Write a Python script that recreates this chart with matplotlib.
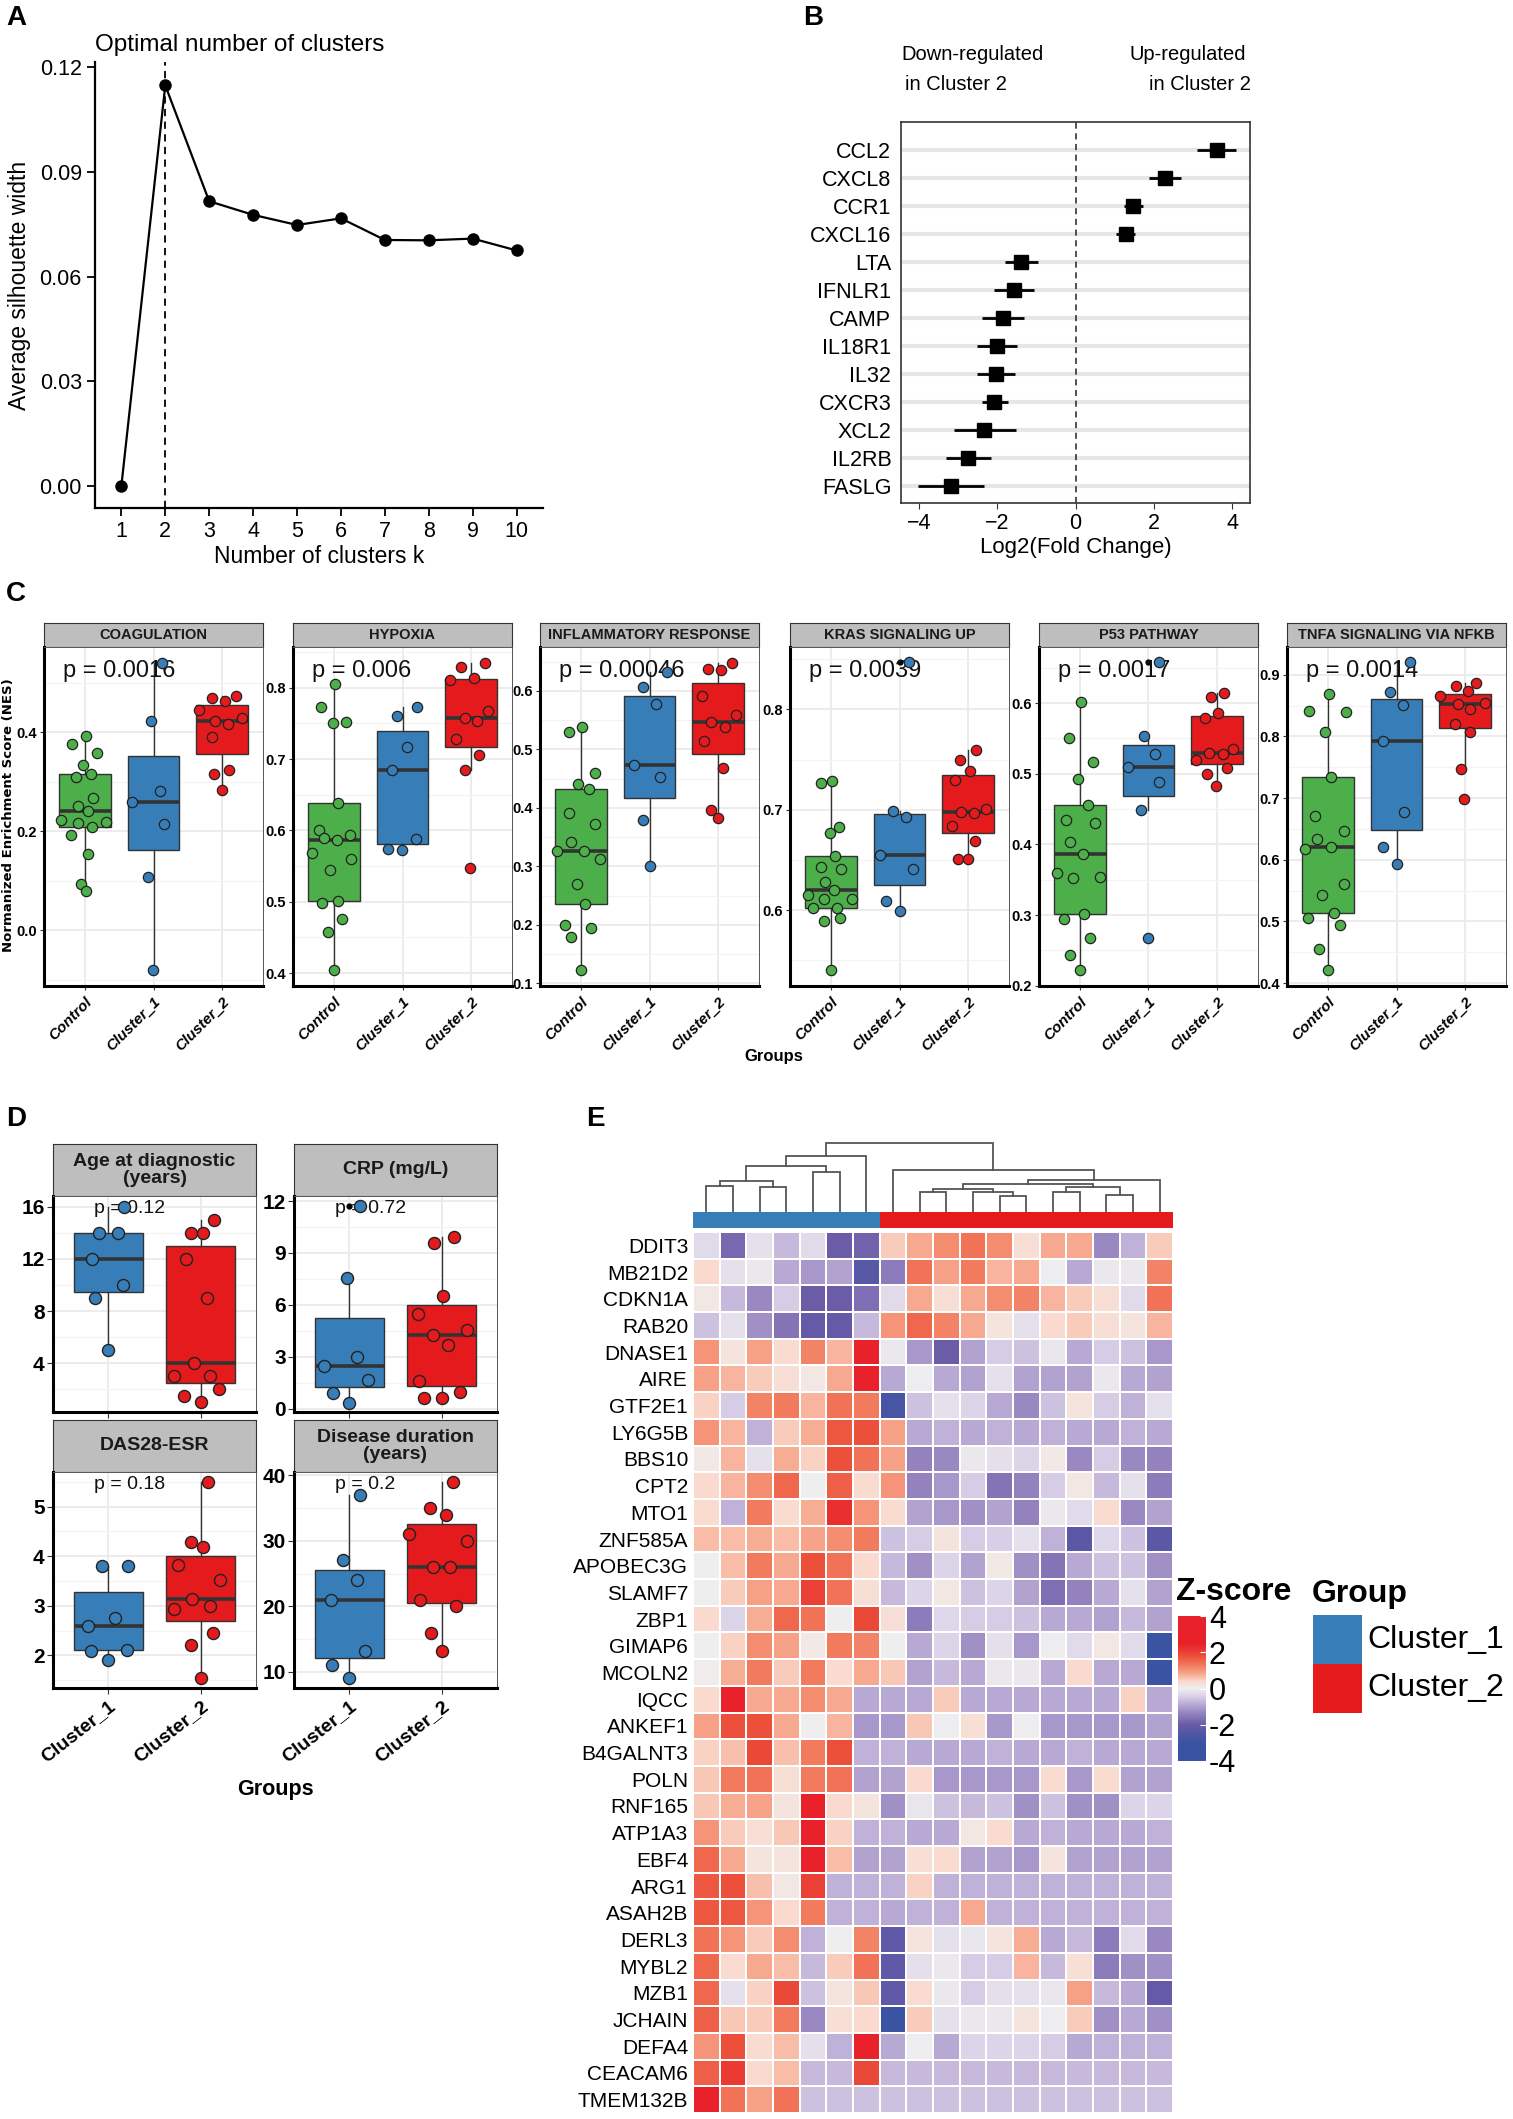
import numpy as np
import matplotlib
matplotlib.use("Agg")
import matplotlib.pyplot as plt
from matplotlib.colors import LinearSegmentedColormap, Normalize
from matplotlib.patches import Rectangle
from matplotlib.ticker import FixedLocator

plt.rcParams["font.family"] = ["Liberation Sans", "DejaVu Sans"]

W, H = 1513, 2119

# ---------------- data: panel A ----------------
k_values = list(range(1, 11))
silhouette = [0.000, 0.1148, 0.0816, 0.0777, 0.0748, 0.0767, 0.0705, 0.0704, 0.0709, 0.0675]
best_k = 2

# ---------------- data: panel B ----------------
fc_genes = ["CCL2", "CXCL8", "CCR1", "CXCL16", "LTA", "IFNLR1", "CAMP",
            "IL18R1", "IL32", "CXCR3", "XCL2", "IL2RB", "FASLG"]
fc_mean = [3.61, 2.28, 1.48, 1.28, -1.39, -1.58, -1.85, -2.01, -2.04, -2.08, -2.33, -2.75, -3.19]
fc_low = [3.10, 1.87, 1.25, 1.03, -1.79, -2.08, -2.39, -2.51, -2.53, -2.39, -3.10, -3.32, -4.02]
fc_high = [4.10, 2.70, 1.73, 1.53, -0.96, -1.07, -1.31, -1.49, -1.55, -1.73, -1.53, -2.17, -2.33]

# ---------------- data: panel C ----------------
groups_c = ["Control", "Cluster_1", "Cluster_2"]
pathways = ["COAGULATION", "HYPOXIA", "INFLAMMATORY RESPONSE",
            "KRAS SIGNALING UP", "P53 PATHWAY", "TNFA SIGNALING VIA NFKB"]
pathway_p = ["p = 0.0016", "p = 0.006", "p = 0.00046", "p = 0.0039", "p = 0.0017", "p = 0.0014"]

coag_ctrl = [0.376, 0.392, 0.358, 0.334, 0.309, 0.315, 0.268, 0.252, 0.241, 0.222, 0.216,
             0.218, 0.208, 0.193, 0.155, 0.093, 0.079]
coag_c1 = [0.541, 0.424, 0.281, 0.260, 0.215, 0.108, -0.081]
coag_c2 = [0.469, 0.464, 0.474, 0.446, 0.424, 0.429, 0.417, 0.390, 0.317, 0.324, 0.284]

hyp_ctrl = [0.805, 0.773, 0.750, 0.752, 0.638, 0.601, 0.589, 0.587, 0.594, 0.568, 0.560,
            0.545, 0.501, 0.498, 0.476, 0.458, 0.405]
hyp_c1 = [0.773, 0.761, 0.717, 0.685, 0.588, 0.574, 0.573]
hyp_c2 = [0.835, 0.829, 0.814, 0.811, 0.767, 0.758, 0.753, 0.728, 0.706, 0.685, 0.547]

inf_ctrl = [0.529, 0.538, 0.460, 0.440, 0.433, 0.391, 0.373, 0.342, 0.326, 0.327, 0.313,
            0.270, 0.235, 0.200, 0.194, 0.180, 0.123]
inf_c1 = [0.633, 0.606, 0.578, 0.474, 0.453, 0.380, 0.300]
inf_c2 = [0.648, 0.637, 0.635, 0.591, 0.559, 0.547, 0.538, 0.515, 0.469, 0.397, 0.382]

kras_ctrl = [0.727, 0.729, 0.683, 0.677, 0.654, 0.643, 0.641, 0.628, 0.620, 0.615, 0.611,
             0.611, 0.602, 0.602, 0.589, 0.592, 0.541]
kras_c1 = [0.847, 0.699, 0.693, 0.655, 0.641, 0.609, 0.599]
kras_c2 = [0.759, 0.750, 0.739, 0.730, 0.698, 0.697, 0.701, 0.684, 0.669, 0.651, 0.651]

p53_ctrl = [0.602, 0.551, 0.516, 0.492, 0.456, 0.435, 0.431, 0.403, 0.386, 0.360, 0.353,
            0.354, 0.302, 0.294, 0.268, 0.244, 0.222]
p53_c1 = [0.658, 0.553, 0.528, 0.509, 0.489, 0.448, 0.268]
p53_c2 = [0.614, 0.609, 0.586, 0.579, 0.535, 0.530, 0.528, 0.519, 0.508, 0.500, 0.483]

tnfa_ctrl = [0.869, 0.842, 0.840, 0.808, 0.734, 0.671, 0.646, 0.633, 0.621, 0.618, 0.560,
             0.543, 0.514, 0.506, 0.495, 0.455, 0.421]
tnfa_c1 = [0.921, 0.872, 0.851, 0.792, 0.677, 0.621, 0.593]
tnfa_c2 = [0.887, 0.881, 0.874, 0.865, 0.853, 0.854, 0.845, 0.820, 0.808, 0.747, 0.698]

# horizontal jitter of each point (fraction of the group spacing)
coag_ctrl_dx = [-0.19, 0.01, 0.17, -0.03, -0.13, 0.08, 0.12, -0.10, 0.04, -0.35, -0.10, 0.30,
                0.10, -0.20, 0.04, -0.06, 0.01]
coag_c1_dx = [0.12, -0.04, 0.09, -0.31, 0.16, -0.08, -0.01]
coag_c2_dx = [-0.14, 0.04, 0.21, -0.34, -0.10, 0.29, 0.09, -0.14, -0.11, 0.10, 0.0]
hyp_ctrl_dx = [0.01, -0.19, -0.02, 0.18, 0.06, -0.22, -0.15, 0.05, 0.24, -0.32, 0.25, -0.06,
               0.06, -0.18, 0.11, -0.09, 0.0]
hyp_c1_dx = [0.21, -0.08, 0.06, -0.16, 0.19, -0.21, -0.01]
hyp_c2_dx = [0.21, -0.15, 0.04, -0.31, 0.25, -0.09, 0.09, -0.22, 0.12, -0.09, -0.01]
inf_ctrl_dx = [-0.17, 0.01, 0.21, -0.04, 0.11, -0.18, 0.20, -0.15, -0.35, 0.05, 0.27, -0.06,
               0.06, -0.24, 0.14, -0.14, 0.0]
inf_c1_dx = [0.26, -0.10, 0.09, -0.23, 0.15, -0.10, 0.0]
inf_c2_dx = [0.20, -0.14, 0.04, -0.23, 0.27, -0.10, 0.10, -0.21, 0.07, -0.10, 0.0]
kras_ctrl_dx = [-0.14, 0.01, 0.12, -0.01, 0.06, -0.14, 0.14, -0.09, 0.04, -0.34, -0.10, 0.30,
                -0.27, 0.09, -0.10, 0.13, 0.0]
kras_c1_dx = [0.14, -0.10, 0.10, -0.28, 0.19, -0.19, 0.0]
kras_c2_dx = [0.12, -0.11, 0.03, -0.19, -0.10, 0.09, 0.27, -0.24, 0.10, -0.14, 0.0]
p53_ctrl_dx = [0.01, -0.16, 0.19, -0.03, 0.11, -0.21, 0.22, -0.14, 0.04, -0.34, -0.10, 0.29,
               0.06, -0.23, 0.15, -0.14, 0.0]
p53_c1_dx = [0.15, -0.07, 0.09, -0.30, 0.15, -0.11, 0.0]
p53_c2_dx = [0.11, -0.09, 0.01, -0.17, 0.24, -0.11, 0.09, -0.31, 0.14, -0.14, -0.01]
tnfa_ctrl_dx = [0.01, -0.28, 0.26, -0.04, 0.05, -0.19, 0.24, -0.16, 0.05, -0.34, 0.23, -0.09,
                0.09, -0.29, 0.18, -0.13, 0.0]
tnfa_c1_dx = [0.19, -0.10, 0.09, -0.19, 0.11, -0.19, 0.0]
tnfa_c2_dx = [0.16, -0.13, 0.04, -0.36, -0.10, 0.29, 0.07, -0.14, 0.07, -0.06, -0.01]

pathway_ticks = [[0.0, 0.2, 0.4], [0.4, 0.5, 0.6, 0.7, 0.8], [0.1, 0.2, 0.3, 0.4, 0.5, 0.6],
                 [0.6, 0.7, 0.8], [0.2, 0.3, 0.4, 0.5, 0.6], [0.4, 0.5, 0.6, 0.7, 0.8, 0.9]]
pathway_ylim = [(-0.113, 0.573), (0.382, 0.857), (0.0955, 0.675),
                (0.5246, 0.862), (0.1995, 0.6795), (0.3954, 0.945)]

# ---------------- data: panel D ----------------
groups_d = ["Cluster_1", "Cluster_2"]
clin_titles = ["Age at diagnostic\n(years)", "CRP (mg/L)", "DAS28-ESR", "Disease duration\n(years)"]
clin_p = ["p = 0.12", "p = 0.72", "p = 0.18", "p = 0.2"]
age_c1 = [16.0, 14.0, 14.0, 12.0, 10.0, 9.0, 5.0]
age_c2 = [15.0, 14.0, 14.0, 12.0, 9.0, 4.0, 3.0, 3.0, 2.0, 1.5, 1.0]
crp_c1 = [11.7, 7.55, 2.96, 2.48, 1.68, 0.88, 0.35]
crp_c2 = [9.92, 9.6, 6.53, 5.47, 4.56, 4.27, 3.68, 1.6, 0.99, 0.61, 0.61]
das_c1 = [3.81, 3.81, 2.76, 2.60, 2.09, 2.11, 1.90]
das_c2 = [5.49, 4.29, 4.19, 3.82, 3.52, 3.13, 2.99, 2.94, 2.46, 2.20, 1.55]
dur_c1 = [36.98, 27.0, 23.98, 21.0, 13.1, 11.05, 9.08]
dur_c2 = [38.95, 35.0, 33.96, 31.0, 29.95, 25.95, 25.95, 21.0, 20.0, 15.97, 13.1]
age_c1_dx = [0.17, -0.10, 0.10, -0.18, 0.16, -0.14, 0.0]
age_c2_dx = [0.14, -0.10, 0.03, -0.16, 0.07, -0.07, -0.29, 0.10, 0.20, -0.18, 0.0]
crp_c1_dx = [0.11, -0.03, 0.08, -0.27, 0.20, -0.18, 0.0]
crp_c2_dx = [0.13, -0.08, 0.02, -0.26, 0.27, -0.09, 0.07, -0.25, 0.20, -0.19, 0.0]
das_c1_dx = [-0.07, 0.21, 0.07, -0.22, -0.19, 0.20, 0.0]
das_c2_dx = [0.08, -0.10, 0.03, -0.25, 0.21, -0.09, 0.10, -0.29, 0.13, -0.10, 0.0]
dur_c1_dx = [0.12, -0.07, 0.08, -0.20, 0.17, -0.19, 0.0]
dur_c2_dx = [0.12, -0.13, 0.05, -0.35, 0.28, -0.09, 0.09, -0.23, 0.16, -0.12, 0.0]
clin_ticks = [[4, 8, 12, 16], [0, 3, 6, 9, 12], [2, 3, 4, 5], [10, 20, 30, 40]]
clin_ylim = [(0.27, 16.82), (-0.19, 12.29), (1.34, 5.70), (7.53, 40.49)]

# ---------------- data: panel E ----------------
heat_genes = ["DDIT3", "MB21D2", "CDKN1A", "RAB20", "DNASE1", "AIRE", "GTF2E1", "LY6G5B",
              "BBS10", "CPT2", "MTO1", "ZNF585A", "APOBEC3G", "SLAMF7", "ZBP1", "GIMAP6",
              "MCOLN2", "IQCC", "ANKEF1", "B4GALNT3", "POLN", "RNF165", "ATP1A3", "EBF4",
              "ARG1", "ASAH2B", "DERL3", "MYBL2", "MZB1", "JCHAIN", "DEFA4", "CEACAM6", "TMEM132B"]
sample_group = ["Cluster_1"] * 7 + ["Cluster_2"] * 11
zscore = [
    [-0.3, -1.8, -0.2, -0.7, -0.3, -2.0, -1.9, 0.5, 0.8, 1.1, 1.4, 1.1, 0.3, 0.8, 0.8, -1.3, -0.8, 0.5],
    [0.4, -0.2, -0.1, -0.9, -1.1, -1.0, -2.4, -1.5, 1.4, 0.9, 1.3, 0.7, 0.8, -0.05, -0.9, -0.1, -0.1, 1.2],
    [0.15, -0.7, -1.3, -0.5, -2.0, -2.0, -1.7, -0.3, 0.8, 0.3, 0.8, 1.1, 1.2, 0.7, 0.5, 0.3, -0.3, 1.4],
    [-0.6, -0.2, -1.2, -1.6, -2.1, -2.1, -0.7, 1.0, 1.5, 1.2, 0.8, 0.2, -0.2, 0.4, 0.5, 0.3, 0.2, 0.7],
    [1.0, 0.2, 0.9, 0.35, 1.2, 0.7, 2.5, -0.1, -1.1, -2.0, -1.0, -0.5, -0.6, -0.15, -0.9, -0.5, -0.6, -1.1],
    [0.9, 0.7, 0.5, 0.3, 0.15, 0.8, 2.6, -0.9, -0.05, -0.9, -1.0, -0.2, -1.0, -1.0, -1.0, -0.1, -0.9, -1.0],
    [0.45, -0.5, 1.2, 1.3, 0.7, 1.4, 1.3, -2.7, -0.6, -0.2, -0.4, -0.9, -1.3, -0.6, 0.2, -0.5, -0.8, -0.2],
    [1.0, 0.7, -0.8, 0.5, 0.75, 1.7, 1.8, 0.9, -0.9, -0.8, -0.9, -0.8, -0.9, -0.8, -0.9, -0.9, -0.8, -0.9],
    [0.1, 0.7, -0.2, 0.75, 0.45, 1.8, 1.4, 0.9, -1.4, -1.3, -0.1, -0.25, -0.4, 0.1, -1.3, -0.5, -1.3, -1.4],
    [0.4, 0.7, 1.1, 1.5, 0.0, 1.6, 0.35, 1.0, -1.4, -1.1, -0.5, -1.6, -1.4, -0.5, 0.15, -0.7, -0.2, -1.5],
    [0.35, -0.8, 1.3, 0.35, 0.75, 2.3, 1.0, 0.35, -1.0, -1.1, -1.2, -1.0, -1.4, -0.1, -0.3, 0.35, -1.3, -1.0],
    [0.65, 0.65, 0.75, 0.65, 0.85, 1.1, 1.3, -0.6, -0.5, 0.2, -0.5, -0.45, -0.2, -0.8, -2.3, -0.35, -0.6, -2.3],
    [0.0, 0.65, 1.3, 0.8, 1.8, 1.4, 0.4, -0.7, -1.2, -0.4, -1.0, 0.1, -1.2, -1.6, -0.9, -0.6, -0.6, -1.2],
    [0.0, 0.5, 0.9, 0.8, 2.0, 1.4, 0.3, -0.7, -0.4, 0.15, -0.6, -0.4, -1.0, -1.7, -1.4, -0.9, -0.2, -1.0],
    [0.4, -0.4, 0.75, 1.5, 1.4, 0.0, 1.9, 0.3, -1.5, -0.35, -0.5, -0.5, -0.6, -0.9, -0.9, -1.0, -0.7, -1.0],
    [0.0, 0.45, 1.1, 0.9, 0.1, 1.3, 1.2, 0.0, -0.9, -0.4, -1.2, -0.25, -1.1, -0.05, -0.3, 0.15, -0.3, -3.0],
    [0.05, 0.75, 1.3, 0.5, 1.3, 0.35, 0.8, 0.55, -1.0, -0.7, -0.9, -0.1, -0.1, -0.9, 0.4, -0.9, -0.9, -3.2],
    [0.4, 2.6, 0.8, 0.8, 1.1, 0.8, -0.9, -0.9, -0.9, 0.5, -0.9, -0.9, -0.9, -0.9, -0.9, -0.9, 0.45, -0.9],
    [0.9, 1.8, 1.8, 0.8, 0.0, 0.7, -1.1, -1.1, 0.55, -0.05, 0.3, -1.1, -0.05, -1.1, -1.1, -1.1, -1.1, -1.0],
    [0.45, 0.6, 1.9, 0.6, 1.3, 1.8, -0.8, -0.8, -0.9, -0.9, -0.9, -0.8, -0.9, -0.9, -0.8, -0.9, -0.9, -0.9],
    [0.55, 1.3, 1.4, 0.3, 1.3, 1.4, -1.0, -1.0, 0.4, -1.1, -1.1, -1.1, -1.1, 0.35, -1.1, 0.35, -1.0, -1.0],
    [0.55, 0.75, 0.85, 0.2, 2.7, 0.4, 0.2, -1.2, -0.15, -0.6, -0.7, -0.6, -1.2, -0.6, -1.2, -1.2, -0.4, -0.4],
    [1.0, 0.5, 0.3, 0.55, 2.7, 0.45, -0.8, -0.8, -0.9, -0.9, 0.15, 0.35, -0.9, -0.8, -0.9, -0.9, -0.9, -0.8],
    [1.5, 0.8, 0.2, 0.2, 2.7, 0.65, -1.0, -1.0, 0.3, 0.35, -1.0, -1.0, -1.1, 0.2, -1.0, -1.0, -1.0, -1.0],
    [1.7, 1.8, 0.6, 0.15, 2.0, -0.8, -0.8, -0.8, 0.45, -0.8, -0.8, -0.8, -0.8, -0.8, -0.8, -0.8, -0.8, -0.8],
    [1.7, 1.7, 1.0, 0.4, 1.3, -0.8, -0.8, -0.9, -0.8, -0.8, 0.8, -0.8, -0.8, -0.8, -0.8, -0.8, -0.8, -0.8],
    [1.4, 1.0, 0.5, 1.1, -0.8, 0.0, 1.2, -2.2, 0.2, -0.2, -0.15, 0.2, 0.75, -0.9, -0.7, -1.5, -0.3, -1.3],
    [1.5, 0.35, 0.8, 0.65, -0.7, 0.5, 1.4, -2.2, -0.25, -0.1, -0.5, -0.5, 0.7, -0.7, 0.3, -1.5, -1.2, -1.2],
    [1.5, -0.2, 0.45, 1.9, -0.6, 0.2, 0.55, -2.2, 0.35, -0.1, -0.5, -0.25, -0.2, -0.15, 0.9, -0.7, -0.9, -2.1],
    [1.6, 0.55, 0.5, 1.3, -1.3, 0.3, 0.4, -3.0, 0.5, -0.2, -0.1, -0.1, 0.2, -0.05, 0.5, -1.2, -0.9, -1.2],
    [1.0, 1.8, 0.35, 0.65, -0.25, -0.8, 2.6, -0.9, -0.05, -0.9, -0.4, -0.4, -0.4, -0.5, -0.9, -0.8, -0.8, -0.8],
    [1.6, 2.1, 0.4, 0.65, -0.7, -0.7, 1.9, -0.7, -0.7, -0.7, -0.7, -0.7, -0.7, -0.7, -0.7, -0.7, -0.7, -0.7],
    [2.6, 1.4, 0.9, 1.4, -0.6, -0.6, -0.6, -0.6, -0.6, -0.6, -0.6, -0.6, -0.6, -0.6, -0.6, -0.6, -0.6, -0.6],
]
# column dendrogram: (left node, right node, height); leaves 0..17, new nodes from 18
col_merges = [(0, 1, 75), (2, 3, 72), (18, 19, 90), (4, 5, 115), (20, 21, 134), (22, 6, 164),
              (11, 12, 45), (10, 24, 55), (8, 9, 55), (26, 25, 64), (13, 14, 55), (15, 16, 47),
              (28, 29, 72), (27, 30, 79), (31, 17, 92), (7, 32, 122), (23, 33, 202)]

GREEN, BLUE, RED = "#4DAF4A", "#377EB8", "#E41A1C"
group_colors = {"Control": GREEN, "Cluster_1": BLUE, "Cluster_2": RED}

fig = plt.figure(figsize=(W / 100, H / 100), dpi=100)


def px_axes(l, t, r, b):
    return fig.add_axes([l / W, 1 - b / H, (r - l) / W, (b - t) / H])


def panel_label(x, y, s):
    fig.text(x / W, 1 - y / H, s, fontsize=20, fontweight="bold", va="center", ha="left")


# ---------------- A ----------------
ax = px_axes(95, 62, 543, 508)
ax.plot(k_values, silhouette, color="black", lw=1.6, marker="o", ms=8, zorder=3)
ax.axvline(best_k, color="black", ls=(0, (4, 3)), lw=1.3)
ax.set_xlim(0.4, 10.6)
ax.set_ylim(-0.0063, 0.1215)
ax.set_xticks(k_values)
ax.set_yticks([0, 0.03, 0.06, 0.09, 0.12])
ax.set_yticklabels(["0.00", "0.03", "0.06", "0.09", "0.12"])
for s in ["top", "right"]:
    ax.spines[s].set_visible(False)
for s in ["left", "bottom"]:
    ax.spines[s].set_linewidth(1.6)
ax.tick_params(labelsize=15.5, length=6, width=1.3)
ax.set_xlabel("Number of clusters k", fontsize=16.5, labelpad=2)
ax.set_ylabel("Average silhouette width", fontsize=16.5, labelpad=6)
fig.text(95 / W, 1 - 45 / H, "Optimal number of clusters", fontsize=17.5, va="center")
panel_label(6, 18, "A")

# ---------------- B ----------------
ax = px_axes(901, 122, 1250, 503)
yy = np.arange(len(fc_genes))[::-1]
for y in yy:
    ax.axhline(y, color="#E6E6E6", lw=3, zorder=0)
ax.hlines(yy, fc_low, fc_high, color="black", lw=2)
ax.plot(fc_mean, yy, "s", color="black", ms=10, zorder=3)
ax.axvline(0, color="#222222", ls=(0, (4, 3)), lw=1.1)
ax.set_xlim(-4.46, 4.46)
ax.set_ylim(-0.6, 13.0)
ax.set_yticks(yy)
ax.set_yticklabels(fc_genes)
ax.set_xticks([-4, -2, 0, 2, 4])
ax.tick_params(axis="y", length=0, pad=7, labelsize=15.5)
ax.tick_params(axis="x", length=4, labelsize=15.5, color="#333333")
for s in ax.spines.values():
    s.set_color("#333333")
    s.set_linewidth(1.2)
ax.set_xlabel("Log2(Fold Change)", fontsize=16, labelpad=2)
fig.text(901 / W, 1 - 55 / H, "Down-regulated", fontsize=14.5, va="center", ha="left")
fig.text(905 / W, 1 - 84 / H, "in Cluster 2", fontsize=14.5, va="center", ha="left")
fig.text(1246 / W, 1 - 55 / H, "Up-regulated", fontsize=14.5, va="center", ha="right")
fig.text(1251 / W, 1 - 84 / H, "in Cluster 2", fontsize=14.5, va="center", ha="right")
panel_label(803, 18, "B")


def style_facet(ax, ticks, ylim, xlim):
    ax.set_ylim(*ylim)
    ax.set_xlim(*xlim)
    ax.set_yticks(ticks)
    step = ticks[1] - ticks[0]
    mids = [t + step / 2 for t in [ticks[0] - step] + list(ticks)]
    ax.yaxis.set_minor_locator(FixedLocator(mids))
    ax.grid(which="major", color="#EBEBEB", lw=1.3, zorder=0)
    ax.grid(which="minor", axis="y", color="#F3F3F3", lw=0.8, zorder=0)
    ax.set_axisbelow(True)
    ax.tick_params(which="minor", length=0)
    for s in ["left", "bottom"]:
        ax.spines[s].set_color("black")
        ax.spines[s].set_linewidth(2.2)
    for s in ["top", "right"]:
        ax.spines[s].set_color("#555555")
        ax.spines[s].set_linewidth(0.7)


def draw_boxes(ax, data, offsets, colors, size, lw):
    pos = np.arange(1, len(data) + 1)
    bp = ax.boxplot(data, positions=pos, widths=0.75, patch_artist=True, showcaps=False,
                    whis=1.5, zorder=2,
                    medianprops=dict(color="#333333", lw=2.6),
                    whiskerprops=dict(color="#333333", lw=1.0),
                    boxprops=dict(edgecolor="#333333", lw=1.0),
                    flierprops=dict(marker="o", markerfacecolor="black",
                                    markeredgecolor="black", markersize=3.5))
    for patch, c in zip(bp["boxes"], colors):
        patch.set_facecolor(c)
    for p, vals, dx, c in zip(pos, data, offsets, colors):
        ax.scatter([p + d for d in dx], vals, s=size, color=c, edgecolor="#222222",
                   lw=lw, zorder=4)


def strip(l, t, r, b, title, fsize):
    sa = px_axes(l, t, r, b)
    sa.set_facecolor("#BEBEBE")
    sa.set_xticks([])
    sa.set_yticks([])
    for s in sa.spines.values():
        s.set_color("#333333")
        s.set_linewidth(0.8)
    sa.text(0.5, 0.5, title, ha="center", va="center", fontsize=fsize,
            fontweight="bold", color="#1A1A1A", linespacing=0.95)


# ---------------- C ----------------
c_data = [[coag_ctrl, coag_c1, coag_c2], [hyp_ctrl, hyp_c1, hyp_c2], [inf_ctrl, inf_c1, inf_c2],
          [kras_ctrl, kras_c1, kras_c2], [p53_ctrl, p53_c1, p53_c2], [tnfa_ctrl, tnfa_c1, tnfa_c2]]
c_dx = [[coag_ctrl_dx, coag_c1_dx, coag_c2_dx], [hyp_ctrl_dx, hyp_c1_dx, hyp_c2_dx],
        [inf_ctrl_dx, inf_c1_dx, inf_c2_dx], [kras_ctrl_dx, kras_c1_dx, kras_c2_dx],
        [p53_ctrl_dx, p53_c1_dx, p53_c2_dx], [tnfa_ctrl_dx, tnfa_c1_dx, tnfa_c2_dx]]
c_left = [44, 293, 540, 790, 1039, 1287]
c_w = 219
for i, name in enumerate(pathways):
    l = c_left[i]
    strip(l, 623, l + c_w, 647, name, 10.5)
    ax = px_axes(l, 647, l + c_w, 986)
    draw_boxes(ax, c_data[i], c_dx[i], [group_colors[g] for g in groups_c], 55, 0.9)
    style_facet(ax, pathway_ticks[i], pathway_ylim[i], (0.4, 3.6))
    ax.set_yticklabels(["%.1f" % t for t in pathway_ticks[i]], fontweight="bold")
    ax.tick_params(axis="y", labelsize=10.5, length=3, color="#333333", pad=2)
    ax.set_xticks([1, 2, 3])
    ax.set_xticklabels(groups_c, rotation=45, ha="right", rotation_mode="anchor",
                       fontsize=11, fontweight="bold", style="italic")
    ax.tick_params(axis="x", length=3, color="#333333", pad=3)
    ax.text(0.0875, 0.93, pathway_p[i], transform=ax.transAxes, fontsize=17,
            ha="left", va="center", color="#111111")
fig.text(774 / W, 1 - 1057 / H, "Groups", fontsize=12, fontweight="bold", ha="center", va="center")
fig.text(9 / W, 1 - 815 / H, "Normanized Enrichment Score (NES)", fontsize=9.5,
         fontweight="bold", family="DejaVu Sans", rotation=90, ha="center", va="center")
panel_label(6, 594, "C")

# ---------------- D ----------------
d_data = [[age_c1, age_c2], [crp_c1, crp_c2], [das_c1, das_c2], [dur_c1, dur_c2]]
d_dx = [[age_c1_dx, age_c2_dx], [crp_c1_dx, crp_c2_dx], [das_c1_dx, das_c2_dx],
        [dur_c1_dx, dur_c2_dx]]
d_cols = [(53, 256), (294, 497)]
d_rows = [(1144, 1196, 1412), (1420, 1472, 1688)]
for i, title in enumerate(clin_titles):
    l, r = d_cols[i % 2]
    t, sb, b = d_rows[i // 2]
    strip(l, t, r, sb, title, 14)
    ax = px_axes(l, sb, r, b)
    draw_boxes(ax, d_data[i], d_dx[i], [group_colors[g] for g in groups_d], 75, 1.0)
    style_facet(ax, clin_ticks[i], clin_ylim[i], (0.4, 2.6))
    ax.set_yticklabels([str(t) for t in clin_ticks[i]], fontweight="bold")
    ax.tick_params(axis="y", labelsize=15, length=4, color="#333333", pad=2)
    ax.set_xticks([1, 2])
    if i >= 2:
        ax.set_xticklabels(groups_d, rotation=38, ha="right", rotation_mode="anchor",
                           fontsize=14, fontweight="bold")
    else:
        ax.set_xticklabels([])
    ax.tick_params(axis="x", length=4, color="#333333", pad=3)
    ax.text(0.2, 0.94, clin_p[i], transform=ax.transAxes, fontsize=14,
            ha="left", va="center", color="#111111")
fig.text(275 / W, 1 - 1790 / H, "Groups", fontsize=15.5, fontweight="bold",
         ha="center", va="center")
panel_label(6, 1119, "D")

# ---------------- E ----------------
zs_cmap = LinearSegmentedColormap.from_list("zs", [
    (0.0, "#3A53A3"), (1.0 / 8, "#3A53A3"), (2.0 / 8, "#6A5BA8"), (2.7 / 8, "#9A88C2"),
    (3.2 / 8, "#BFB1D8"), (3.6 / 8, "#DCD3E9"), (4.0 / 8, "#EFEFEF"), (4.4 / 8, "#FAD9CD"),
    (4.8 / 8, "#F7A98F"), (5.3 / 8, "#F27A5D"), (5.8 / 8, "#EC4F3A"), (6.5 / 8, "#E8212A"),
    (1.0, "#E8212A")])
zs_norm = Normalize(-4, 4)
n_rows, n_cols = len(heat_genes), len(sample_group)

ax = px_axes(693, 1232, 1173, 2113)
ax.pcolormesh(np.arange(n_cols + 1), np.arange(n_rows + 1), np.array(zscore),
              cmap=zs_cmap, norm=zs_norm, edgecolors="white", linewidth=1.2)
ax.set_xlim(0, n_cols)
ax.set_ylim(n_rows, 0)
ax.set_xticks([])
ax.set_yticks(np.arange(n_rows) + 0.5)
ax.set_yticklabels(heat_genes, fontsize=15)
ax.tick_params(axis="y", length=0, pad=3.5)
for s in ax.spines.values():
    s.set_visible(False)

# group annotation bar
ax = px_axes(693, 1212, 1173, 1228)
ax.bar(np.arange(n_cols) + 0.5, 1, width=1.0, color=[group_colors[g] for g in sample_group])
ax.set_xlim(0, n_cols)
ax.set_ylim(0, 1)
ax.axis("off")

# column dendrogram
ax = px_axes(693, 1143, 1173, 1211)
node_x = {i: i + 0.5 for i in range(n_cols)}
node_h = {i: 0.0 for i in range(n_cols)}
for j, (a, b, h) in enumerate(col_merges):
    nid = n_cols + j
    ax.plot([node_x[a], node_x[a], node_x[b], node_x[b]], [node_h[a], h, h, node_h[b]],
            color="#555555", lw=1.3, clip_on=False, solid_joinstyle="miter")
    node_x[nid] = (node_x[a] + node_x[b]) / 2
    node_h[nid] = h
ax.set_xlim(0, n_cols)
ax.set_ylim(0, 202)
ax.axis("off")

# legends
cax = px_axes(1178, 1616, 1206, 1761)
cax.imshow(np.linspace(4, -4, 256)[:, None], aspect="auto", cmap=zs_cmap, norm=zs_norm,
           extent=[0, 1, -4, 4])
cax.set_xticks([])
cax.yaxis.tick_right()
cax.set_yticks([-4, -2, 0, 2, 4])
cax.set_yticklabels(["-4", "-2", "0", "2", "4"])
cax.tick_params(axis="y", direction="in", length=4, color="white", labelsize=22, pad=2)
for s in cax.spines.values():
    s.set_visible(False)
fig.text(1176 / W, 1 - 1592 / H, "Z-score", fontsize=23, fontweight="bold", va="center")
fig.text(1312 / W, 1 - 1594 / H, "Group", fontsize=23, fontweight="bold", va="center")
lax = px_axes(1313, 1615, 1510, 1713)
lax.set_xlim(0, 197)
lax.set_ylim(2, 0)
for i, g in enumerate(groups_d):
    lax.add_patch(Rectangle((0, i), 49, 1, facecolor=group_colors[g], edgecolor="none"))
    lax.text(54, i + 0.5, g, fontsize=23, va="center", ha="left")
lax.axis("off")
panel_label(586, 1119, "E")

fig.savefig("out.png", dpi=100)
